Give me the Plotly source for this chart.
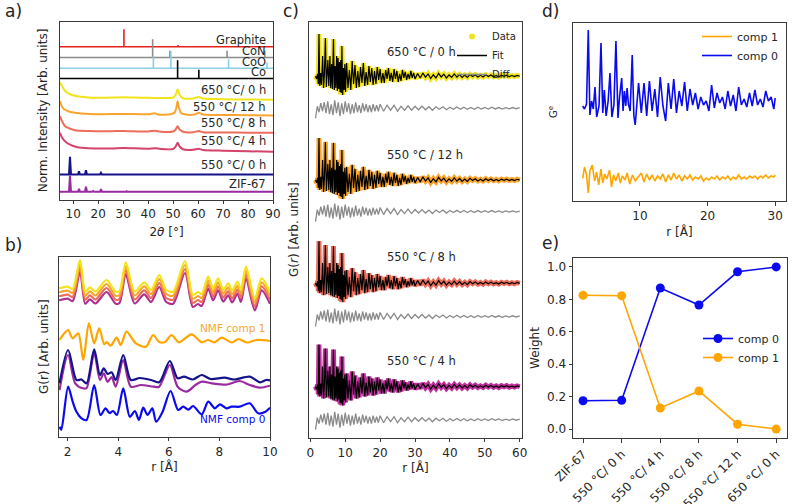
import plotly.graph_objects as go

# ================= DATA =================
# ---- panel a: XRD (2theta [deg], normalised intensity, arb.) ----
xrd_650_tt = [4.7, 5.5, 6.7, 8.5, 10.7, 16, 22, 30, 38, 46, 50, 51, 51.8, 52.6, 54, 58, 60.3, 62, 70, 80, 90]
xrd_650_I = [117, 113.5, 108.7, 105.5, 103.7, 102, 101.7, 102.3, 101.8, 101.5, 102, 104.5, 110.3, 104.5, 101.3, 101, 102.5, 101, 100.3, 100, 99.7]
xrd_12h_tt = [4.7, 5.4, 6.5, 8, 10, 13.4, 20, 30, 40, 42.7, 44, 49, 50.6, 51.3, 51.8, 52.3, 53.2, 55, 58.5, 60.3, 62, 70, 80, 90]
xrd_12h_I = [98.5, 93.3, 90, 88.3, 87, 86, 85.3, 85.6, 85.2, 86.3, 85, 85.2, 87, 92, 98.3, 92, 86.5, 85, 85, 86.7, 85, 84.5, 84.3, 84]
xrd_8h_tt = [4.7, 5.4, 6.7, 8.5, 10.7, 16, 25, 30, 40, 42.7, 45, 50, 51, 51.8, 52.6, 54, 58, 60.3, 62, 70, 80, 90]
xrd_8h_I = [83.3, 79, 73.3, 71, 69.3, 68.5, 68.3, 68.6, 68, 68.8, 67.8, 68, 70, 73.3, 70, 67.7, 67.3, 68.5, 67.3, 67, 66.8, 66.7]
xrd_4h_tt = [4.7, 5.5, 7.4, 9.5, 11.7, 16, 25, 30, 40, 42.7, 45, 50, 51, 51.8, 52.6, 54, 58, 60.3, 62, 70, 80, 90]
xrd_4h_I = [66.7, 62, 56.7, 54, 52.3, 51.3, 51, 51.5, 50.8, 51.3, 50.5, 50.5, 53, 56.7, 53, 50.2, 49.7, 50.8, 49.5, 48.8, 48.3, 47.7]
xrd_0h_tt = [4.7, 8.3, 8.7, 9.1, 11.9, 12.3, 12.7, 14.7, 15.1, 15.5, 20.7, 21.1, 21.5, 90]
xrd_0h_I = [25, 25, 42.7, 25, 25, 28.3, 25, 25, 29.3, 25, 25, 26.7, 25, 25]
xrd_zif_tt = [4.7, 8.3, 8.7, 9.1, 11.9, 12.3, 12.7, 14.7, 15.1, 15.5, 17.6, 18.0, 18.4, 20.7, 21.1, 21.5, 31.0, 31.4, 31.8, 90]
xrd_zif_I = [7.7, 7.7, 24, 7.7, 7.7, 10.7, 7.7, 7.7, 12.7, 7.7, 7.7, 8.5, 7.7, 7.7, 10.3, 7.7, 7.7, 8.3, 7.7, 7.7]
# reference stick patterns: peak positions / heights
ref_names = ["Graphite", "CoN", "CoO", "Co"]
ref_pos = [[30.3, 52.0, 63.0], [41.8, 48.7, 71.6, 86.7], [42.1, 49.1, 72.2, 87.6], [51.8, 60.3]]
ref_h = [[17.6, 1.8, 0.8], [18.3, 6.7, 6.7, 6.7], [12.3, 17.3, 9.0, 5.7], [18.3, 8.7]]
ref_base = [152.7, 142.0, 131.3, 121.0]
xrd_labels = ["650 °C/ 0 h", "550 °C/ 12 h", "550 °C/ 8 h", "550 °C/ 4 h", "550 °C/ 0 h", "ZIF-67"]

# ---- panel b: low-r PDFs (r [A], G arb.) ----
b_r_top = [1.66, 2.0, 2.2, 2.49, 2.7, 2.88, 3.1, 3.54, 3.9, 4.05, 4.30, 4.65, 5.03, 5.3, 5.62, 5.9, 6.17,
           6.64, 6.95, 7.15, 7.3, 7.56, 7.75, 7.95, 8.15, 8.35, 8.5, 8.72, 8.85, 9.05, 9.4, 9.67, 10.0]
b_G_top = [148.7, 150.3, 148, 177, 145.3, 149.7, 145.5, 157, 145.3, 146, 174.7, 145.5, 154.7, 147, 162, 147, 145.3,
           176, 142, 145, 143, 160.3, 148.7, 158.7, 147.5, 153.7, 146.5, 155.3, 147, 170.3, 138.7, 158.7, 145.3]
b_r_c1 = [1.68, 1.85, 2.02, 2.2, 2.42, 2.62, 2.84, 3.05, 3.25, 3.45, 3.55, 3.7, 3.94, 4.1, 4.33, 4.7, 5.1, 5.38,
          5.62, 5.85, 6.11, 6.4, 6.9, 7.3, 7.55, 7.8, 8.09, 8.5, 8.75, 9.1, 9.45, 10.0]
b_G_c1 = [97, 103, 107, 98.7, 103.7, 77, 113.7, 93.7, 108.7, 92.7, 95, 91.3, 99.3, 92, 105.3, 93.7, 90.3, 102,
          95, 95, 102, 94.7, 102.7, 94.7, 97, 94.7, 99.3, 94.5, 98, 94.5, 97, 96]
b_r_0h = [1.68, 2.02, 2.35, 2.55, 2.75, 3.05, 3.28, 3.43, 3.58, 3.74, 3.9, 4.2, 4.5, 4.85, 5.3, 5.62, 6.04,
          6.35, 6.6, 6.95, 7.3, 7.65, 8.2, 8.6, 9.2, 9.6, 9.85, 10.0]
b_G_0h = [53.7, 87, 57, 57.5, 53.7, 87.7, 62, 68.7, 63, 64.7, 57, 82, 57, 59, 57, 54.7, 76,
          58.7, 60.3, 57.5, 62, 58, 59.3, 57.5, 60.3, 54.7, 57, 56.7]
b_r_zif = [1.68, 2.02, 2.3, 2.6, 2.75, 3.05, 3.28, 3.43, 3.58, 3.74, 3.9, 4.2, 4.5, 4.9, 5.4, 5.62, 6.04,
           6.35, 6.7, 7.05, 7.3, 7.7, 8.3, 8.8, 9.2, 9.6, 10.0]
b_G_zif = [47, 82, 53.7, 48.7, 49, 83.7, 57, 63.7, 55, 60, 50.3, 77, 50.3, 52, 50.3, 50.3, 72,
           50.3, 45.3, 52, 55.3, 53.7, 52.5, 56, 52, 49.3, 51.3]
b_r_c0 = [1.68, 1.75, 2.02, 2.2, 2.35, 2.55, 2.75, 3.05, 3.3, 3.5, 3.65, 3.8, 3.95, 4.2, 4.46, 4.66, 4.82, 4.99,
          5.16, 5.35, 5.5, 5.75, 6.07, 6.37, 6.57, 6.77, 6.96, 7.3, 7.56, 7.82, 8.02, 8.28, 8.48, 8.8, 9.2, 9.53, 9.8, 10.0]
b_G_c0 = [10.3, 7, 50.3, 35.3, 25.3, 18.7, 17, 52, 22, 28.7, 24, 26, 22, 48.7, 20.3, 26, 17, 29.3,
          22, 28.7, 15.3, 25, 46, 27, 30.3, 27.3, 31, 22.7, 35.3, 28.7, 32.7, 28.7, 30.3, 30.3, 33.7, 23.7, 25, 29.3]

# ---- panel c: PDF fits (r [A], G arb.) ----
c_r = [1.5, 1.8, 2.1, 2.3, 2.49, 2.7, 2.95, 3.2, 3.54, 3.8, 4.05, 4.33, 4.6, 4.82, 5.03, 5.3, 5.62, 5.85, 6.1, 6.35,
       6.64, 6.88, 7.1, 7.32, 7.56, 7.76, 7.95, 8.15, 8.35, 8.53, 8.72, 8.88, 9.05, 9.3, 9.5, 9.7, 9.9, 10.1,
       10.4, 10.8, 11.2, 11.6, 12.0, 12.4, 12.8, 13.2, 13.6, 14.0, 14.4, 14.8, 15.2, 15.6, 16.0, 16.4, 16.8, 17.2,
       17.6, 18.0, 18.4, 18.8, 19.2, 19.6, 20.0, 20.4, 20.8, 21.2, 21.6, 22.0, 22.4, 22.8, 23.2, 23.6, 24.0, 24.4,
       24.8, 25.2, 25.6, 26.0, 26.4, 26.8, 27.2, 27.6, 28.0, 28.4, 28.8, 29.2, 29.6, 30.0,
       30.75, 31.5, 32.25, 33.0, 33.75, 34.5, 35.25, 36.0, 36.75, 37.5, 38.25, 39.0, 39.75, 40.5, 41.25, 42.0,
       42.75, 43.5, 44.25, 45.0, 45.75, 46.5, 47.25, 48.0, 48.75, 49.5, 50.25, 51.0, 51.75, 52.5, 53.25, 54.0,
       54.75, 55.5, 56.25, 57.0, 57.75, 58.5, 59.25, 60.0]
c_G_data = [0, -3, 2, -8, 42, -10, 3, -9, 20, -12, 2, 38, -11, 1, 16, -10, 20, -12, 12, -13,
            37, -14, 10, -12, 20, -15, 18, -13, 14, -16, 16, -17, 30, -19, 8, -14, 12, -16,
            13, -12, 6, -14, 15, -8, 11, -12, 5, -11, 9, -7, 13, -10, 4, -9, 10, -6, 8, -9,
            5, -8, 9, -4, 7, -7, 3, -7, 6, -3, 8, -5, 3, -6, 7, -3, 5, -6, 2, -5,
            6, -2, 4, -4, 2, -3, 5, -2, 3, -3,
            2.5, -2, 3, -1.2, 2, -2.5, 1.2, -2, 2.5, -1, 1.8, -2, 1, -1.5, 2, -1.2, 1.4, -1.5, 0.8, -1.5,
            1.5, -0.6, 1.2, -1, 0.6, -1, 1.2, -0.6, 1, -0.8, 0.5, -1, 0.8, -0.4, 0.8, -0.7, 0.4, -0.6, 0.6, -0.3]
c_G_fit = list(c_G_data)
c_r_diff = [1.5, 2.0, 2.5, 3.0, 3.5, 4.0, 4.5, 5.0, 5.5, 6.0, 6.5, 7.0, 7.5, 8.0, 8.5, 9.0, 9.5, 10.0, 10.5, 11.0,
            11.5, 12.0, 12.5, 13.0, 13.5, 14.0, 14.5, 15.0, 15.5, 16.0, 16.5, 17.0, 17.5, 18.0, 18.5, 19.0, 19.5, 20.0,
            21, 22, 23, 24, 25, 26, 27, 28, 29, 30, 31, 32, 33, 34, 35, 36, 37, 38, 39, 40,
            41, 42, 43, 44, 45, 46, 47, 48, 49, 50, 51, 52, 53, 54, 55, 56, 57, 58, 59, 60]
c_G_diff = [-10, 2, -4, 5, -3, 6, -5, 7, -6, 4, -7, 8, -5, 6, -8, 5, -6, 7, -4, 5,
            -6, 4, -5, 6, -4, 3, -5, 5, -3, 4, -4, 3, -4, 4, -3, 3, -3, 4,
            -3, 3, -2, 3, -3, 2, -2, 2.5, -2, 2, -1.5, 2, -1.5, 1.5, -2, 1.5, -1, 1.5, -1.5, 1,
            -1, 1.2, -1, 1, -1, 0.8, -1, 1, -0.8, 0.8, -0.8, 1, -0.7, 0.7, -0.8, 0.6, -0.6, 0.7, -0.5, 0.5]
c_labels = ["650 °C / 0 h", "550 °C / 12 h", "550 °C / 8 h", "550 °C / 4 h"]

# ---- panel d: NMF components (r [A], G^e arb.) ----
d_r_comp0 = [1.54, 1.8, 2.1, 2.36, 2.6, 2.85, 3.1, 3.35, 3.6, 3.95, 4.24, 4.5, 4.73, 5.0, 5.3, 5.57, 5.85, 6.15,
             6.45, 6.75, 7.0, 7.3, 7.5, 7.7, 7.9, 8.1, 8.3, 8.55, 8.86, 9.1, 9.3, 9.55, 9.8,
             10.2, 10.6, 11.0, 11.4, 11.8, 12.2, 12.6, 13.0, 13.4, 13.8, 14.2, 14.6, 15.0, 15.4, 15.8, 16.2, 16.6,
             17.0, 17.4, 17.8, 18.2, 18.6, 19.0, 19.4, 19.8, 20.2, 20.6, 21.0, 21.4, 21.8, 22.2, 22.6, 23.0, 23.4,
             23.8, 24.2, 24.6, 25.0, 25.4, 25.8, 26.2, 26.6, 27.0, 27.4, 27.8, 28.2, 28.6, 29.0, 29.4, 29.8, 30.0]
d_G_comp0 = [95, 92, 97, 171, 86, 100, 92, 114, 84, 95, 158, 88, 111, 85, 100, 128, 84, 96,
             160, 83, 105, 123, 90, 110, 95, 113, 97, 90, 146, 85, 76, 95, 118,
             88, 118, 85, 120, 90, 112, 84, 124, 95, 80, 118, 92, 122, 88, 110, 95, 119,
             90, 112, 96, 108, 92, 104, 96, 100, 90, 116, 93, 108, 98, 104, 92, 110, 95,
             106, 90, 114, 96, 102, 94, 108, 95, 111, 96, 102, 94, 110, 100, 104, 92, 103]
d_r_comp1 = [1.54, 1.8, 2.1, 2.36, 2.6, 2.95, 3.3, 3.6, 3.9, 4.24, 4.5, 4.8, 5.1, 5.5, 5.8, 6.1, 6.4, 6.8,
             7.1, 7.4, 7.8, 8.1, 8.5, 8.9, 9.3, 9.7,
             10.2, 10.6, 11.0, 11.4, 11.8, 12.2, 12.6, 13.0, 13.4, 13.8, 14.2, 14.6, 15.0, 15.4, 15.8, 16.2, 16.6,
             17.0, 17.4, 17.8, 18.2, 18.6, 19.0, 19.4, 19.8, 20.2, 20.6, 21.0, 21.4, 21.8, 22.2, 22.6, 23.0, 23.4,
             23.8, 24.2, 24.6, 25.0, 25.4, 25.8, 26.2, 26.6, 27.0, 27.4, 27.8, 28.2, 28.6, 29.0, 29.4, 29.8, 30.0]
d_G_comp1 = [22.7, 34, 26, 8, 30, 36, 20, 29, 16, 32, 18, 27, 22, 31, 14, 26, 20, 28,
             18, 25, 21, 28, 17, 26, 20, 24,
             28, 19, 27, 21, 26, 20, 25, 22, 27, 19, 26, 21, 28, 22, 26, 20, 25,
             22, 26, 21, 24, 22, 25, 20, 23, 21, 24, 22, 25, 21, 24, 22, 25, 21,
             24, 22, 26, 22, 24, 22, 25, 23, 25, 22, 25, 23, 26, 23, 25, 24, 26]

# ---- panel e: NMF weights ----
e_samples = ["ZIF-67", "550 °C/ 0 h", "550 °C/ 4 h", "550 °C/ 8 h", "550 °C/ 12 h", "650 °C/ 0 h"]
e_comp0 = [0.175, 0.178, 0.87, 0.765, 0.97, 1.0]
e_comp1 = [0.825, 0.822, 0.13, 0.235, 0.03, 0.0]

# ================= STYLE =================
W, H = 803, 504
FONT = "DejaVu Sans"
TXT = "#262626"
C650, C12, C8 = "#f2e41c", "#f9a530", "#ec6d5c"
C4_A, C4_B, C4_C = "#d5436a", "#b0308e", "#c0309c"
CNAVY, CZIF = "#15138a", "#9a2aa0"
CBLUE, CORANGE = "#0a0af0", "#ffa500"
REF_COL = ["#e8201b", "#8c8c8c", "#8ccfe0", "#000000"]


def dx(p):
    return p / W


def dy(p):
    return 1 - p / H


fig = go.Figure()

# ---- panel a traces ----
for name, pos, hh, base, col in zip(ref_names, ref_pos, ref_h, ref_base, REF_COL):
    xs, ys = [xrd_650_tt[0]], [base]
    for p, h in zip(pos, hh):
        xs += [p, p, p]
        ys += [base, base + h, base]
    xs.append(xrd_650_tt[-1])
    ys.append(base)
    fig.add_trace(go.Scatter(x=xs, y=ys, mode="lines", line=dict(color=col, width=1.6),
                             showlegend=False, xaxis="x", yaxis="y", hoverinfo="skip"))
for tt, I, col, shp in [(xrd_650_tt, xrd_650_I, C650, "spline"), (xrd_12h_tt, xrd_12h_I, C12, "spline"),
                        (xrd_8h_tt, xrd_8h_I, C8, "spline"), (xrd_4h_tt, xrd_4h_I, C4_A, "spline"),
                        (xrd_0h_tt, xrd_0h_I, CNAVY, "linear"), (xrd_zif_tt, xrd_zif_I, CZIF, "linear")]:
    fig.add_trace(go.Scatter(x=tt, y=I, mode="lines", line=dict(color=col, width=2, shape=shp, smoothing=0.7),
                             showlegend=False, xaxis="x", yaxis="y"))

# ---- panel b traces ----
b_off = [-12, -8, -4, 0]
for off, col in zip(b_off, [C4_B, C8, C12, C650]):
    fig.add_trace(go.Scatter(x=b_r_top, y=[v + off for v in b_G_top], mode="lines",
                             line=dict(color=col, width=2.2, shape="spline", smoothing=0.8),
                             showlegend=False, xaxis="x2", yaxis="y2"))
for rr, gg, col in [(b_r_c1, b_G_c1, CORANGE), (b_r_zif, b_G_zif, CZIF), (b_r_0h, b_G_0h, CNAVY),
                    (b_r_c0, b_G_c0, CBLUE)]:
    fig.add_trace(go.Scatter(x=rr, y=gg, mode="lines", line=dict(color=col, width=2.2, shape="spline", smoothing=0.8),
                             showlegend=False, xaxis="x2", yaxis="y2"))

# ---- panel c traces ----
c_base = [362, 258, 154.7, 51.3]
c_dbase = [329.7, 226.3, 121.3, 18]
for i, col in enumerate([C650, C12, C8, C4_C]):
    fig.add_trace(go.Scatter(x=c_r, y=[v + c_base[i] for v in c_G_data], mode="lines",
                             line=dict(color=col, width=5), showlegend=False, xaxis="x3", yaxis="y3"))
    fig.add_trace(go.Scatter(x=c_r, y=[v + c_base[i] for v in c_G_fit], mode="lines",
                             line=dict(color="black", width=1.2), showlegend=False, xaxis="x3", yaxis="y3"))
    fig.add_trace(go.Scatter(x=c_r_diff, y=[v + c_dbase[i] for v in c_G_diff], mode="lines",
                             line=dict(color="#8a8a8a", width=1.3), showlegend=False, xaxis="x3", yaxis="y3"))
# legend entries for panel c
fig.add_trace(go.Scatter(x=[None], y=[None], mode="markers", marker=dict(color=C650, size=6), name="Data",
                         xaxis="x3", yaxis="y3", legend="legend"))
fig.add_trace(go.Scatter(x=[None], y=[None], mode="lines", line=dict(color="black", width=1.5), name="Fit",
                         xaxis="x3", yaxis="y3", legend="legend"))
fig.add_trace(go.Scatter(x=[None], y=[None], mode="lines", line=dict(color="#8a8a8a", width=1.5), name="Diff",
                         xaxis="x3", yaxis="y3", legend="legend"))

# ---- panel d traces ----
fig.add_trace(go.Scatter(x=d_r_comp1, y=d_G_comp1, mode="lines", line=dict(color=CORANGE, width=1.6),
                         name="comp 1", xaxis="x4", yaxis="y4", legend="legend2"))
fig.add_trace(go.Scatter(x=d_r_comp0, y=d_G_comp0, mode="lines", line=dict(color=CBLUE, width=1.6),
                         name="comp 0", xaxis="x4", yaxis="y4", legend="legend2"))

# ---- panel e traces ----
fig.add_trace(go.Scatter(x=e_samples, y=e_comp0, mode="lines+markers", line=dict(color=CBLUE, width=1.6),
                         marker=dict(size=9, color=CBLUE), name="comp 0", xaxis="x5", yaxis="y5", legend="legend3"))
fig.add_trace(go.Scatter(x=e_samples, y=e_comp1, mode="lines+markers", line=dict(color=CORANGE, width=1.6),
                         marker=dict(size=9, color=CORANGE), name="comp 1", xaxis="x5", yaxis="y5", legend="legend3"))

# ================= LAYOUT =================
tickfont = dict(family=FONT, size=12, color=TXT)
titlefont = dict(family=FONT, size=12, color=TXT)
base_ax = dict(showline=True, mirror=True, linecolor="#3a3a3a", linewidth=1, showgrid=False, zeroline=False,
               ticks="outside", ticklen=3.5, tickwidth=1, tickcolor="#3a3a3a", tickfont=tickfont, automargin=False)
no_y = dict(base_ax, ticks="", showticklabels=False)

layout = dict(
    width=W, height=H, margin=dict(l=0, r=0, t=0, b=0, pad=0, autoexpand=False),
    paper_bgcolor="white", plot_bgcolor="white",
    font=dict(family=FONT, color=TXT),
    xaxis=dict(base_ax, domain=[dx(60), dx(273)], range=[4.7, 90.0], tickvals=[10, 20, 30, 40, 50, 60, 70, 80, 90],
               anchor="y", title=dict(text="2<i>θ</i> [°]", font=titlefont, standoff=7)),
    yaxis=dict(no_y, domain=[dy(199.5), dy(21.5)], range=[0, 178], anchor="x",
               title=dict(text="Norm. Intensity [Arb. units]", font=titlefont, standoff=8)),
    xaxis2=dict(base_ax, domain=[dx(59), dx(270)], range=[1.66, 10], tickvals=[2, 4, 6, 8, 10], anchor="y2",
                title=dict(text="r [Å]", font=titlefont, standoff=1)),
    yaxis2=dict(no_y, domain=[dy(436.7), dy(256.7)], range=[0.3, 180.3], anchor="x2",
                title=dict(text="G(r) [Arb. units]", font=titlefont, standoff=6)),
    xaxis3=dict(base_ax, domain=[dx(309), dx(522)], range=[-0.37, 60.65], tickvals=[0, 10, 20, 30, 40, 50, 60],
                anchor="y3", title=dict(text="r [Å]", font=titlefont, standoff=5)),
    yaxis3=dict(no_y, domain=[dy(437.7), dy(21.5)], range=[0, 416.5], anchor="x3",
                title=dict(text="G(<i>r</i>) [Arb. units]", font=titlefont, standoff=6)),
    xaxis4=dict(base_ax, domain=[dx(573), dx(786)], range=[0.1, 31.6], tickvals=[10, 20, 30], anchor="y4",
                title=dict(text="r [Å]", font=titlefont, standoff=5)),
    yaxis4=dict(no_y, domain=[dy(201), dy(23)], range=[0, 178], anchor="x4",
                title=dict(text="G<sup>e</sup>", font=dict(family=FONT, size=10, color=TXT), standoff=12)),
    xaxis5=dict(base_ax, domain=[dx(573), dx(787)], range=[-0.26, 5.28], type="category", tickangle=-45,
                anchor="y5"),
    yaxis5=dict(base_ax, domain=[dy(438), dy(258)], range=[-0.055, 1.055], tickvals=[0, 0.2, 0.4, 0.6, 0.8, 1.0],
                tickformat=".1f", anchor="x5", title=dict(text="Weight", font=titlefont, standoff=4)),
    legend=dict(x=dx(452), y=dy(22), xanchor="left", yanchor="top", bgcolor="rgba(0,0,0,0)",
                font=dict(family=FONT, size=10, color=TXT), itemwidth=30, tracegroupgap=0),
    legend2=dict(x=dx(697), y=dy(22), xanchor="left", yanchor="top", bgcolor="rgba(0,0,0,0)",
                 font=dict(family=FONT, size=11, color=TXT), itemwidth=30),
    legend3=dict(x=dx(698), y=dy(324), xanchor="left", yanchor="top", bgcolor="rgba(0,0,0,0)",
                 font=dict(family=FONT, size=11, color=TXT), itemwidth=30),
)

ann = []
# panel labels
for t, px, py in [("a)", 3, 11), ("b)", 3, 245), ("c)", 281, 11), ("d)", 540, 11), ("e)", 540, 243)]:
    ann.append(dict(text=t, x=dx(px), y=dy(py), xref="paper", yref="paper", xanchor="left", yanchor="middle",
                    showarrow=False, font=dict(family=FONT, size=17, color="#222")))
# panel a labels
a_lab_y = [159.3, 148, 137, 127]
for t, yv in zip(ref_names, a_lab_y):
    ann.append(dict(text=t, x=88, y=yv, xref="x", yref="y", xanchor="right", yanchor="middle", showarrow=False,
                    font=dict(family=FONT, size=11.5, color=TXT)))
for t, yv in zip(xrd_labels, [109.7, 92.7, 76, 58.3, 34, 15]):
    ann.append(dict(text=t, x=88, y=yv, xref="x", yref="y", xanchor="right", yanchor="middle", showarrow=False,
                    font=dict(family=FONT, size=11.5, color=TXT)))
# panel b labels
ann.append(dict(text="NMF comp 1", x=9.88, y=108.7, xref="x2", yref="y2", xanchor="right", yanchor="middle",
                showarrow=False, font=dict(family=FONT, size=10.5, color=C12)))
ann.append(dict(text="NMF comp 0", x=9.88, y=18, xref="x2", yref="y2", xanchor="right", yanchor="middle",
                showarrow=False, font=dict(family=FONT, size=10.5, color=CBLUE)))
# panel c labels
for t, xv, yv in zip(c_labels, [31.9, 32.9, 31.9, 31.9], [386.3, 283, 180.7, 76.3]):
    ann.append(dict(text=t, x=xv, y=yv, xref="x3", yref="y3", xanchor="center", yanchor="middle", showarrow=False,
                    font=dict(family=FONT, size=11.5, color=TXT)))
layout["annotations"] = ann
fig.update_layout(**layout)
fig.write_html("out.html", config={"displayModeBar": False},
               post_script="document.body.style.margin='0';document.body.style.overflow='hidden';")
